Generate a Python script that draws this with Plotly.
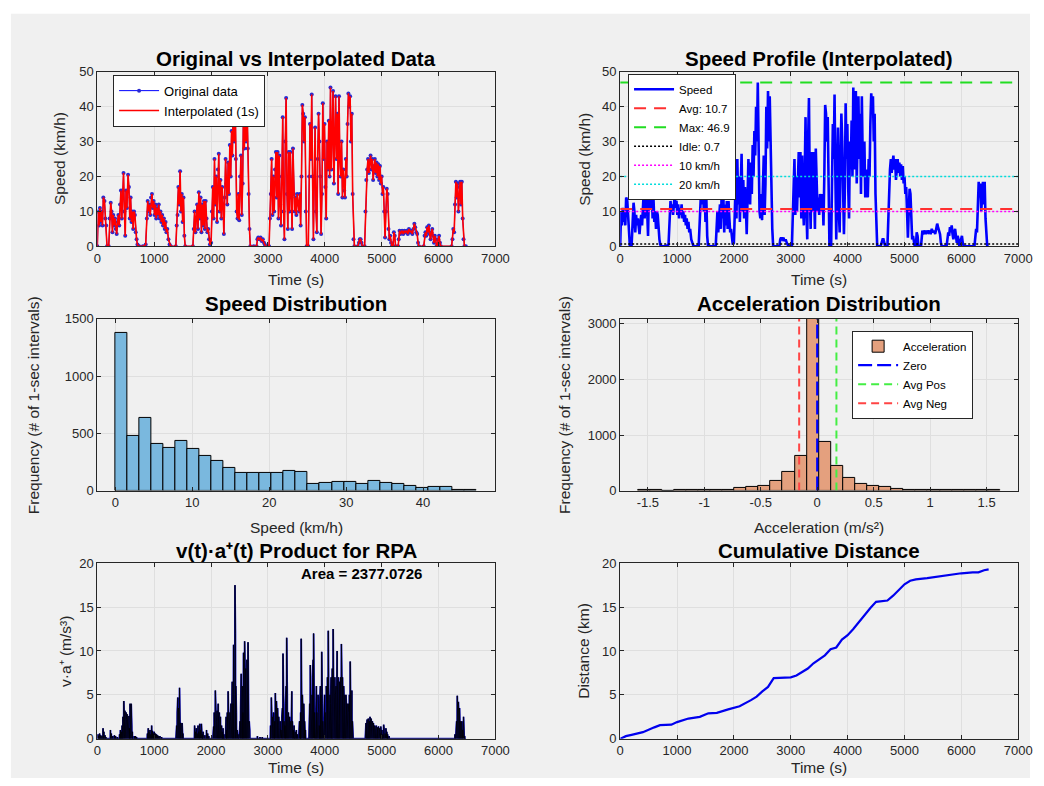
import plotly.graph_objects as go

# ---------------- data ----------------
# recorded speed samples (s, km/h)
time_s = [
    0, 15, 30, 45, 60, 75, 90, 105, 125, 140, 155, 170, 200, 215, 235, 250, 265, 280, 295, 310,
    325, 340, 355, 370, 385, 400, 415, 430, 445, 460, 475, 490, 505, 520, 540, 555, 570, 585, 600, 615,
    630, 645, 660, 675, 690, 705, 720,
    735, 800, 850, 870, 885, 900, 915, 930, 945, 960, 975, 990, 1005, 1020, 1035, 1050, 1065, 1080, 1095,
    1110, 1125, 1140, 1155, 1170, 1185, 1200, 1215, 1230, 1250, 1270, 1290, 1380, 1395, 1410, 1425, 1440,
    1455, 1470, 1485, 1500, 1515, 1530, 1545, 1680,
    1695, 1710, 1725, 1740, 1755, 1770, 1785, 1800, 1815, 1830, 1845, 1860, 1875, 1890, 1905, 1920, 1935,
    1950, 1965, 1980, 2000,
    2015, 2030, 2045, 2060, 2075, 2090, 2105, 2120, 2135, 2150, 2165, 2180, 2195, 2210, 2225, 2240, 2255,
    2270, 2285, 2300, 2315, 2330, 2345, 2360, 2375, 2390, 2405, 2420, 2435, 2450, 2465, 2480, 2495, 2510,
    2525, 2540, 2555, 2570, 2585, 2600, 2615, 2630, 2645, 2660, 2675, 2690,
    2750, 2800, 2815, 2830, 2850, 2870, 2890, 2910, 2930, 2945, 2960, 3020,
    3035, 3050, 3065, 3080, 3095, 3110, 3125, 3140, 3155, 3170, 3185, 3200, 3215, 3230, 3245, 3260, 3275,
    3290, 3305, 3320, 3335, 3350, 3365, 3380, 3395, 3410, 3425, 3440, 3455, 3470, 3485, 3500, 3515, 3530,
    3545, 3560, 3575, 3590, 3605, 3620, 3635, 3650, 3665, 3680, 3710,
    3725, 3740, 3755, 3770, 3785, 3800, 3815, 3830, 3845, 3860, 3875, 3890, 3905, 3920, 3935, 3950,
    3965, 3980, 3995, 4010, 4025, 4040, 4055, 4070, 4085, 4100, 4115, 4130, 4145, 4160, 4175, 4190, 4205,
    4220, 4235, 4250, 4265, 4280, 4295, 4310, 4325, 4340, 4355, 4370, 4385, 4400, 4415, 4430, 4445, 4460,
    4475, 4490, 4505, 4520,
    4580, 4600, 4615, 4630, 4645, 4660, 4700, 4715, 4730, 4745, 4760, 4775, 4790, 4805, 4820, 4835, 4850,
    4865, 4880, 4895, 4910, 4925, 4940, 4955, 4970, 4985, 5000, 5015, 5030, 5045, 5060, 5075, 5090, 5105,
    5120, 5135, 5150, 5165, 5180, 5200, 5215, 5230, 5245, 5290,
    5300, 5315, 5330, 5345, 5360, 5380, 5400, 5420, 5440, 5460, 5480, 5500, 5520, 5540, 5560, 5575, 5590,
    5610, 5625, 5640, 5655, 5740, 5755, 5770, 5785, 5800, 5815, 5830, 5845, 5860, 5875, 5890, 5905, 5920,
    5935, 5950, 5965, 5980, 5995, 6010, 6025, 6040, 6230, 6245, 6260, 6275, 6290, 6305, 6320, 6335, 6350,
    6365, 6380, 6395, 6410, 6425, 6440, 6455, 6480,
]
speed_kmh = [
    0, 10, 6, 11, 7, 10, 6, 14, 13, 8, 6, 0, 0, 8, 12.5, 10, 4, 9, 6, 8,
    5, 3.5, 7, 9, 6, 12, 16, 8, 16, 21, 10, 3, 16, 11, 20.5, 17, 8, 14, 7, 10,
    5, 10, 9, 4, 2, 0.5, 0,
    0, 0, 0.5, 8, 13, 10, 12, 9, 14, 15, 11, 13, 9, 12, 8, 11, 9, 12, 8,
    10, 7, 9, 6, 8, 5, 7, 4, 5, 2, 0.5, 0, 0, 6, 9, 17, 12,
    21.5, 10, 15, 7, 14, 3, 0, 0,
    5, 10, 4, 8, 12, 5, 15.5, 8, 14, 4, 12, 6, 13, 5, 13, 8, 4,
    5, 2, 0.5, 1,
    10, 17, 8, 25, 12, 20, 7, 22, 26.5, 10, 19, 8, 17, 12, 3.5, 14, 25,
    18, 12, 24, 15, 29, 20, 33, 26, 40, 30, 46.9, 25, 10, 8, 15, 7.5, 20,
    26, 9, 18, 40, 28, 44.5, 30, 43, 28, 15, 5, 0,
    0, 0, 2, 2.5, 2, 2.5, 1.5, 2, 1, 0.5, 0, 0,
    8, 15, 25, 9, 20, 10, 22, 27, 14, 27, 8, 26, 12, 6, 20, 37, 10,
    2, 30, 42.5, 15, 5, 27, 10, 27, 14, 5, 28, 15, 10, 14, 9, 15, 12,
    10, 15, 6, 20, 40.5, 38, 30, 37, 10, 0, 0,
    20, 35, 25, 43.5, 20, 2, 20, 34, 10, 4, 25, 38, 30, 20, 3.5, 15,
    41, 25, 35, 17, 8, 30, 22, 36, 20, 45.5, 22, 32, 44.5, 18, 30, 43, 25,
    38, 15, 43, 25, 20, 30, 14, 22, 16, 14, 25, 20, 35, 43.8, 40, 43, 30,
    38, 15, 2, 0,
    0, 1, 2, 2, 1, 0, 0, 10, 19, 22, 25, 21, 24, 26, 22, 25, 19,
    23, 25, 21, 24, 20, 23.5, 19, 23, 18, 20, 15, 17, 10, 2.5, 10, 16.5, 15,
    5, 2, 3, 1, 0, 0, 4, 3, 0, 0,
    2, 4.5, 3.5, 4, 4.5, 3.5, 4.5, 4, 4.5, 3.5, 5, 4, 4.5, 3.5, 5, 6.5, 5.5,
    4, 3.5, 1, 0, 0, 3, 4, 3, 5.5, 4, 6, 3.5, 2, 4, 5, 3, 1,
    3, 2, 0, 0, 2, 3, 1, 0, 0, 2, 5, 4, 12, 18.5, 14, 18, 10,
    17, 18.5, 12, 18.5, 8, 2, 0, 0,
]

# summary statistics of the speed trace (km/h)
avg_speed = 10.7
max_speed = 46.9
idle_speed = 0.7
ref_speeds = [10, 20]

# speed histogram: 30 bins over [0, max_speed]
speed_counts = [1375, 480, 635, 410, 370, 430, 365, 305, 260, 200, 150, 150, 150, 150, 175,
                160, 60, 70, 80, 75, 55, 85, 70, 60, 40, 25, 30, 30, 5, 3]

# acceleration histogram (m/s^2): first edge, bin width, counts
acc_first_edge = -1.59
acc_bin_width = 0.107
acc_counts = [5, 3, 2, 3, 8, 8, 12, 20, 40, 70, 90, 165, 330, 630, 3090,
              870, 440, 230, 120, 85, 60, 25, 15, 10, 8, 5, 4, 3, 3, 5]
avg_pos_acc = 0.17
avg_neg_acc = -0.16

# v(t)*a+(t) peaks (s, m^2/s^3)
vpa_t = [
    10, 25, 40, 60, 80, 100, 115, 135, 150, 230, 245, 270, 300, 320, 350,
    390, 405, 420, 435, 450, 465, 475, 485, 495, 505, 515, 525, 535, 545, 555, 565, 575, 585, 595, 605,
    615, 650, 670, 690,
    880, 895, 910, 925, 940, 955, 970, 985, 1000, 1020, 1040, 1060, 1080, 1100, 1130,
    1385, 1395, 1405, 1415, 1425, 1435, 1445, 1455, 1465, 1475, 1490, 1505,
    1710, 1725, 1740, 1755, 1770, 1785, 1800, 1815, 1830, 1845, 1860, 1890, 1920, 1940, 1960,
    2035, 2045, 2055, 2065, 2075, 2085, 2095, 2105, 2115, 2125, 2135, 2145, 2155, 2165, 2175, 2185,
    2195, 2210, 2225,
    2255, 2265, 2275, 2285, 2300, 2310, 2320, 2330, 2340, 2350, 2360, 2372, 2385, 2395, 2405, 2420,
    2428, 2436, 2445, 2460, 2475,
    2500, 2510, 2520, 2530, 2540, 2550, 2560, 2570, 2580, 2590, 2600, 2610, 2620, 2630, 2640, 2650,
    2660, 2670, 2680,
    2815, 2860, 2900,
    3045, 3060, 3070, 3080, 3090, 3100, 3110, 3120, 3130, 3140, 3150, 3160, 3170, 3180, 3190, 3200,
    3215, 3230, 3245, 3255, 3265, 3275, 3285, 3300, 3310, 3320, 3330, 3340, 3350, 3360, 3370, 3380,
    3390, 3400, 3410, 3420, 3430, 3445, 3460, 3480, 3500, 3520,
    3545, 3555, 3565, 3575, 3585, 3595, 3605, 3615, 3630, 3645, 3660,
    3725, 3735, 3745, 3755, 3765, 3775, 3785, 3795, 3803, 3812, 3822, 3832, 3842, 3852, 3862, 3872,
    3882, 3892, 3902, 3912, 3922, 3932, 3946, 3956, 3966, 3976, 3986, 3996, 4006, 4016, 4026, 4036,
    4046, 4061, 4071, 4081, 4091, 4101, 4111, 4121, 4131, 4147, 4157, 4167, 4177, 4187, 4197, 4207,
    4217, 4227, 4237, 4247, 4257, 4267, 4277, 4292, 4302, 4312, 4322, 4332, 4342, 4352, 4362, 4372,
    4382, 4392, 4402, 4412, 4422, 4432, 4447, 4457, 4467, 4476, 4486, 4496,
    4715, 4725, 4735, 4745, 4755, 4765, 4775, 4785, 4795, 4805, 4815, 4825, 4835, 4845, 4855, 4865,
    4875, 4885, 4895, 4905, 4915, 4925, 4935, 4945, 4955, 4965, 4975, 4985, 4995, 5005, 5020, 5035,
    5045, 5060, 5075, 5090, 5105, 5130,
    6290, 6305, 6318, 6330, 6340, 6350, 6360, 6370, 6380, 6390, 6400, 6410, 6425, 6440, 6450, 6460,
]
vpa_val = [
    0.5, 0.3, 0.6, 0.4, 0.3, 1.2, 0.8, 0.4, 0.2, 1.0, 0.6, 0.3, 0.4, 0.3, 0.2,
    0.5, 1.0, 0.8, 1.5, 2.5, 4.3, 2.0, 3.2, 1.5, 3.0, 2.2, 2.8, 1.0, 2.0, 2.6, 1.2, 4.0, 2.5, 4.0, 1.5,
    0.8, 0.3, 0.3, 0.2,
    0.6, 1.2, 0.8, 1.0, 0.5, 1.5, 0.9, 0.6, 0.8, 0.6, 0.5, 0.4, 0.3, 0.3, 0.2,
    0.5, 1.5, 3.0, 4.7, 3.5, 2.0, 5.8, 3.5, 1.8, 1.5, 1.8, 0.6,
    1.5, 0.8, 1.2, 0.6, 1.5, 0.8, 1.7, 1.0, 1.7, 0.5, 0.8, 0.4, 1.0, 0.6, 0.3,
    0.8, 1.4, 3.0, 1.5, 5.5, 3.2, 2.0, 3.2, 1.5, 4.0, 2.5, 3.0, 1.2, 2.5, 1.0, 1.5,
    0.8, 1.2, 0.5,
    1.5, 2.5, 1.0, 3.0, 5.4, 2.0, 1.5, 3.0, 2.0, 4.0, 2.5, 6.5, 4.0, 10.7, 5.0, 17.5,
    12.0, 6.0, 3.0, 1.0, 0.5,
    0.8, 2.0, 3.5, 7.4, 4.0, 6.0, 3.0, 9.8, 5.0, 11.1, 7.0, 8.0, 4.0, 9.0, 6.0, 11.0,
    5.0, 2.0, 1.0,
    0.3, 0.2, 0.2,
    1.5, 4.7, 2.0, 2.5, 1.0, 3.0, 1.5, 2.0, 5.2, 3.0, 4.3, 2.0, 3.5, 1.5, 2.5, 1.0,
    2.0, 1.0, 2.5, 3.5, 9.7, 4.0, 2.0, 1.5, 4.0, 6.0, 11.5, 5.0, 2.0, 3.0, 1.5, 2.5,
    1.0, 2.0, 1.0, 5.4, 2.0, 1.0, 1.5, 0.8, 1.0, 0.5,
    1.0, 2.0, 1.5, 3.0, 11.4, 6.0, 5.0, 3.0, 4.0, 2.0, 1.0,
    2.0, 4.0, 8.4, 6.0, 3.0, 5.0, 7.0, 9.0, 12.0, 6.0, 3.0, 1.5, 4.0, 6.0, 3.0, 2.0,
    5.0, 3.0, 1.5, 4.0, 6.0, 5.0, 9.9, 4.0, 2.0, 1.5, 3.0, 5.0, 3.0, 2.0, 6.0, 4.0,
    7.0, 12.3, 6.0, 3.0, 5.0, 4.0, 7.0, 5.0, 8.0, 12.5, 6.0, 4.0, 7.0, 5.0, 6.0, 4.0,
    10.0, 6.0, 7.0, 5.0, 6.5, 4.0, 7.0, 10.8, 6.0, 7.0, 5.0, 6.0, 4.0, 5.0, 3.0, 5.0,
    3.5, 4.0, 2.5, 4.0, 3.0, 5.0, 8.8, 4.0, 3.0, 5.5, 2.0, 1.0,
    0.8, 1.8, 1.2, 2.2, 1.5, 2.3, 1.0, 2.0, 2.5, 1.8, 2.3, 1.2, 2.0, 1.5, 1.8, 1.0,
    1.5, 1.2, 1.0, 1.5, 0.8, 1.3, 1.0, 1.4, 0.8, 1.2, 0.6, 1.4, 0.8, 1.0, 0.5, 1.6,
    1.0, 0.6, 1.2, 0.8, 0.5, 0.3,
    0.5, 1.0, 2.0, 4.9, 3.0, 4.2, 2.0, 3.5, 1.5, 2.0, 1.0, 2.0, 1.0, 2.5, 1.0, 0.3,
]
rpa_area = 2377.0726

# cumulative distance (s, km)
dist_t = [0, 100, 200, 400, 600, 700, 900, 1000, 1200, 1400, 1550, 1700, 1900, 2000, 2100, 2300,
          2400, 2500, 2600, 2700, 2800, 3000, 3100, 3300, 3400, 3600, 3700, 3800, 3900, 4000, 4100,
          4200, 4300, 4400, 4500, 4600, 4700, 4800, 4900, 5000, 5100, 5200, 5400, 5600, 5800, 6000,
          6200, 6300, 6400, 6480]
dist_km = [0, 0.3, 0.45, 0.75, 1.3, 1.55, 1.6, 1.9, 2.3, 2.5, 2.9, 2.95, 3.35, 3.55, 3.7, 4.4,
           4.8, 5.4, 5.9, 6.9, 6.95, 7.0, 7.2, 8.0, 8.6, 9.5, 10.2, 10.4, 11.3, 11.8, 12.5,
           13.3, 14.2, 14.9, 15.6, 15.7, 15.75, 16.3, 17.0, 17.6, 18.0, 18.15, 18.3, 18.5, 18.7, 18.85,
           18.95, 18.95, 19.2, 19.3]

# ---------------- derived positions ----------------
n_speed_bins = len(speed_counts)
speed_bin_w = max_speed / n_speed_bins
speed_centers = [speed_bin_w * (i + 0.5) for i in range(n_speed_bins)]
acc_centers = [acc_first_edge + acc_bin_width * (i + 0.5) for i in range(len(acc_counts))]
acc_top = max(acc_counts)

# spikes of the v*a+ product, each returning to zero
vpa_x, vpa_y = [0], [0]
for t, v in zip(vpa_t, vpa_val):
    vpa_x += [t - 3, t, t + 3]
    vpa_y += [0, v, 0]
vpa_x.append(time_s[-1])
vpa_y.append(0)

t_end = 7000

# ---------------- figure ----------------
FONT = "Liberation Sans, Arial, sans-serif"
AX = "#262626"
GRID = "#dfdfdf"

fig = go.Figure()

# 1) original vs interpolated
fig.add_trace(go.Scatter(x=time_s, y=speed_kmh, mode="lines+markers", name="Original data",
                         line=dict(color="#0000ff", width=1), marker=dict(size=4, color="#2a2ad0"),
                         xaxis="x", yaxis="y", legend="legend"))
fig.add_trace(go.Scatter(x=time_s, y=speed_kmh, mode="lines", name="Interpolated (1s)",
                         line=dict(color="#ff0000", width=1.6), xaxis="x", yaxis="y", legend="legend"))

# 2) speed profile with reference levels
fig.add_trace(go.Scatter(x=time_s, y=speed_kmh, mode="lines", name="Speed",
                         line=dict(color="#0000ff", width=2.6), xaxis="x2", yaxis="y2", legend="legend2"))
fig.add_trace(go.Scatter(x=[0, t_end], y=[avg_speed, avg_speed], mode="lines", name=f"Avg: {avg_speed:.1f}",
                         line=dict(color="#ff3030", width=2, dash="12px,8px"),
                         xaxis="x2", yaxis="y2", legend="legend2"))
fig.add_trace(go.Scatter(x=[0, t_end], y=[max_speed, max_speed], mode="lines", name=f"Max: {max_speed:.1f}",
                         line=dict(color="#22dd22", width=2, dash="12px,8px"),
                         xaxis="x2", yaxis="y2", legend="legend2"))
fig.add_trace(go.Scatter(x=[0, t_end], y=[idle_speed, idle_speed], mode="lines", name=f"Idle: {idle_speed:.1f}",
                         line=dict(color="#000000", width=1.5, dash="2px,2px"),
                         xaxis="x2", yaxis="y2", legend="legend2"))
fig.add_trace(go.Scatter(x=[0, t_end], y=[ref_speeds[0]] * 2, mode="lines", name=f"{ref_speeds[0]} km/h",
                         line=dict(color="#ff00ff", width=1.5, dash="2px,2px"),
                         xaxis="x2", yaxis="y2", legend="legend2"))
fig.add_trace(go.Scatter(x=[0, t_end], y=[ref_speeds[1]] * 2, mode="lines", name=f"{ref_speeds[1]} km/h",
                         line=dict(color="#00dddd", width=1.5, dash="2px,2px"),
                         xaxis="x2", yaxis="y2", legend="legend2"))

# 3) speed distribution
fig.add_trace(go.Bar(x=speed_centers, y=speed_counts, width=speed_bin_w, showlegend=False,
                     marker=dict(color="rgb(122,184,222)", line=dict(color="#000000", width=1)),
                     xaxis="x3", yaxis="y3"))

# 4) acceleration distribution
fig.add_trace(go.Bar(x=acc_centers, y=acc_counts, width=acc_bin_width, name="Acceleration",
                     marker=dict(color="rgb(228,160,126)", line=dict(color="#000000", width=1)),
                     xaxis="x4", yaxis="y4", legend="legend3"))
fig.add_trace(go.Scatter(x=[0, 0], y=[0, acc_top], mode="lines", name="Zero",
                         line=dict(color="#0000ff", width=2.2, dash="14px,5px"),
                         xaxis="x4", yaxis="y4", legend="legend3"))
fig.add_trace(go.Scatter(x=[avg_pos_acc] * 2, y=[0, acc_top], mode="lines", name="Avg Pos",
                         line=dict(color="#44ee44", width=2, dash="8px,5px"),
                         xaxis="x4", yaxis="y4", legend="legend3"))
fig.add_trace(go.Scatter(x=[avg_neg_acc] * 2, y=[0, acc_top], mode="lines", name="Avg Neg",
                         line=dict(color="#ff4444", width=2, dash="8px,5px"),
                         xaxis="x4", yaxis="y4", legend="legend3"))

# 5) v * a+ product
fig.add_trace(go.Scatter(x=vpa_x, y=vpa_y, mode="lines", showlegend=False,
                         line=dict(color="#1010c8", width=1.8), xaxis="x5", yaxis="y5"))
fig.add_trace(go.Scatter(x=vpa_x, y=vpa_y, mode="lines", showlegend=False,
                         line=dict(color="#000000", width=0.8), xaxis="x5", yaxis="y5"))

# 6) cumulative distance
fig.add_trace(go.Scatter(x=dist_t, y=dist_km, mode="lines", showlegend=False,
                         line=dict(color="#0000ee", width=2.2), xaxis="x6", yaxis="y6"))

# positions below are in pixels from the top-left corner of the figure
W, H = 1044, 786


def px(x):
    return x / W


def py(y):
    return 1 - y / H


colL = [px(95), px(500)]
colR = [px(627), px(1032)]
row1 = [py(244), py(66)]
row2 = [py(493), py(318)]
row3 = [py(746), py(567)]


def axis(domain, anchor, rng, tickvals=None, ticktext=None, dtick=None):
    d = dict(domain=domain, anchor=anchor, range=rng, showline=True, linecolor=AX, linewidth=1,
             mirror="ticks", ticks="inside", ticklen=4, tickcolor=AX, showgrid=True, gridcolor=GRID,
             gridwidth=1, zeroline=False, tickfont=dict(family=FONT, size=13, color=AX), fixedrange=True)
    if tickvals is not None:
        d.update(tickmode="array", tickvals=tickvals, ticktext=ticktext)
    elif dtick is not None:
        d.update(tick0=0, dtick=dtick)
    return d


time_ticks = [0, 1000, 2000, 3000, 4000, 5000, 6000, 7000]
time_text = [str(v) for v in time_ticks]
acc_ticks = [-1.5, -1, -0.5, 0, 0.5, 1, 1.5]
acc_text = ["-1.5", "-1", "-0.5", "0", "0.5", "1", "1.5"]

legend_common = dict(xanchor="left", yanchor="top", bgcolor="#ffffff", bordercolor=AX, borderwidth=1,
                     tracegroupgap=0, itemwidth=40)
layout = dict(
    width=W, height=H, margin=dict(l=0, r=0, t=0, b=0),
    paper_bgcolor="#ffffff", plot_bgcolor="#ffffff", bargap=0,
    font=dict(family=FONT, size=13, color=AX),
    xaxis=axis(colL, "y", [0, 7000], time_ticks, time_text),
    yaxis=axis(row1, "x", [0, 50], dtick=10),
    xaxis2=axis(colR, "y2", [0, 7000], time_ticks, time_text),
    yaxis2=axis(row1, "x2", [0, 50], dtick=10),
    xaxis3=axis(colL, "y3", [-2.35, 49.4], dtick=10),
    yaxis3=axis(row2, "x3", [0, 1500], dtick=500),
    xaxis4=axis(colR, "y4", [-1.745, 1.78], acc_ticks, acc_text),
    yaxis4=axis(row2, "x4", [0, acc_top], dtick=1000),
    xaxis5=axis(colL, "y5", [0, 7000], time_ticks, time_text),
    yaxis5=axis(row3, "x5", [0, 20], dtick=5),
    xaxis6=axis(colR, "y6", [0, 7000], time_ticks, time_text),
    yaxis6=axis(row3, "x6", [0, 20], dtick=5),
    legend=dict(x=px(111), y=py(69), font=dict(family=FONT, size=13, color="#000000"), **legend_common),
    legend2=dict(x=px(635), y=py(68), font=dict(family=FONT, size=11.5, color="#000000"), **legend_common),
    legend3=dict(x=px(863), y=py(330), font=dict(family=FONT, size=11.5, color="#000000"), **legend_common),
    # grey figure background with a thin white border at the top and left
    shapes=[dict(type="rect", xref="paper", yref="paper", x0=px(7), x1=1, y0=0, y1=py(7),
                 fillcolor="#f0f0f0", line=dict(width=0), layer="below")],
)
fig.update_layout(**layout)

ann = []
title_font = dict(family=FONT, size=20.5, color="#000000")
label_font = dict(family=FONT, size=15.5, color=AX)
cxL = (colL[0] + colL[1]) / 2
cxR = (colR[0] + colR[1]) / 2
for x, y, txt in [(cxL, py(53), "Original vs Interpolated Data"),
                  (cxR, py(53), "Speed Profile (Interpolated)"),
                  (cxL, py(302), "Speed Distribution"),
                  (cxR, py(302), "Acceleration Distribution"),
                  (cxL, py(554), "v(t)·a⁺(t) Product for RPA"),
                  (cxR, py(554), "Cumulative Distance")]:
    ann.append(dict(x=x, y=y, xref="paper", yref="paper", text=f"<b>{txt}</b>", showarrow=False,
                    xanchor="center", yanchor="middle", font=title_font))
for x, y, txt in [(cxL, py(278), "Time (s)"), (cxR, py(278), "Time (s)"),
                  (cxL, py(531), "Speed (km/h)"), (cxR, py(531), "Acceleration (m/s²)"),
                  (cxL, py(775), "Time (s)"), (cxR, py(775), "Time (s)")]:
    ann.append(dict(x=x, y=y, xref="paper", yref="paper", text=txt, showarrow=False,
                    xanchor="center", yanchor="middle", font=label_font))
for x, y, txt in [(px(56), (row1[0] + row1[1]) / 2, "Speed (km/h)"),
                  (px(590), (row1[0] + row1[1]) / 2, "Speed (km/h)"),
                  (px(30), (row2[0] + row2[1]) / 2, "Frequency (# of 1-sec intervals)"),
                  (px(571), (row2[0] + row2[1]) / 2, "Frequency (# of 1-sec intervals)"),
                  (px(63), (row3[0] + row3[1]) / 2, "v·a⁺ (m/s³)"),
                  (px(590), (row3[0] + row3[1]) / 2, "Distance (km)")]:
    ann.append(dict(x=x, y=y, xref="paper", yref="paper", text=txt, showarrow=False, textangle=-90,
                    xanchor="center", yanchor="middle", font=label_font))
ann.append(dict(x=4640, y=18.8, xref="x5", yref="y5", text=f"<b>Area = {rpa_area:.4f}</b>",
                showarrow=False, xanchor="center", yanchor="middle",
                font=dict(family=FONT, size=15, color="#000000")))
fig.update_layout(annotations=ann)

fig.write_html("out.html")
